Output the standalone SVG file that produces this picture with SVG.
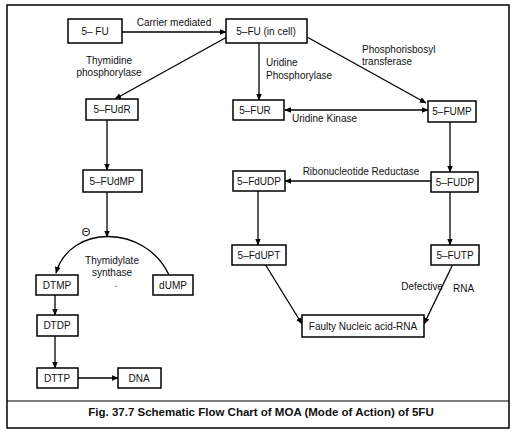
<svg xmlns="http://www.w3.org/2000/svg" width="517" height="432" viewBox="0 0 517 432">
<defs>
<marker id="ah" viewBox="0 0 10 10" refX="9" refY="5" markerWidth="7" markerHeight="7" orient="auto-start-reverse" markerUnits="userSpaceOnUse">
<path d="M0,1 L10,5 L0,9 z" fill="#000"/>
</marker>
<style>
text{font-family:"Liberation Sans",Arial,sans-serif;font-size:10px;fill:#111}
.box{fill:#fff;stroke:#000;stroke-width:1.5}
.c{text-anchor:middle}
.ln{fill:none;stroke:#000;stroke-width:1.3}
.arr{marker-end:url(#ah)}
.cap{font-weight:bold;font-size:11.5px}
</style>
</defs>
<rect x="0" y="0" width="517" height="432" fill="#fff"/>
<rect x="7" y="5" width="502" height="423" fill="none" stroke="#000" stroke-width="1.5"/>
<line x1="7" y1="401" x2="509" y2="401" stroke="#000" stroke-width="1.2"/>
<text class="cap c" x="261" y="416">Fig. 37.7 Schematic Flow Chart of MOA (Mode of Action) of 5FU</text>

<g id="connectors">
<line class="ln arr" x1="122" y1="32" x2="226" y2="32"/>
<line class="ln arr" x1="227" y1="37" x2="115" y2="99"/>
<line class="ln arr" x1="259" y1="43" x2="259" y2="100"/>
<line class="ln arr" x1="307" y1="37" x2="426" y2="103"/>
<line class="ln arr" x1="285" y1="110" x2="428" y2="110" style="marker-start:url(#ah)"/>
<line class="ln arr" x1="107" y1="120" x2="107" y2="170"/>
<line class="ln arr" x1="450" y1="122" x2="450" y2="172"/>
<line class="ln arr" x1="431" y1="181" x2="285" y2="181"/>
<line class="ln arr" x1="258" y1="191" x2="258" y2="245"/>
<line class="ln arr" x1="450" y1="192" x2="450" y2="245"/>
<line class="ln arr" x1="265" y1="264" x2="302" y2="324"/>
<line class="ln arr" x1="453" y1="264" x2="424" y2="324"/>
<line class="ln arr" x1="107" y1="192" x2="107" y2="237"/>
<path class="ln arr" d="M169,275 C145,224 70,224 56,273"/>
<line class="ln arr" x1="55" y1="295" x2="55" y2="315"/>
<line class="ln arr" x1="55" y1="336" x2="55" y2="368"/>
<line class="ln arr" x1="78" y1="378" x2="118" y2="378"/>
</g>

<g id="labels">
<text x="174" y="26" class="c">Carrier mediated</text>
<text x="109" y="64" class="c">Thymidine</text>
<text x="109" y="76" class="c">phosphorylase</text>
<text x="266" y="66">Uridine</text>
<text x="266" y="79">Phosphorylase</text>
<text x="362" y="53">Phosphorisbosyl</text>
<text x="362" y="65">transferase</text>
<text x="292" y="122">Uridine Kinase</text>
<text x="361" y="175" class="c">Ribonucleotide Reductase</text>
<text x="443" y="290" style="text-anchor:end">Defective</text>
<text x="453" y="292">RNA</text>
<text x="86" y="236" class="c" style="font-size:11px">Θ</text>
<text x="112" y="264" class="c">Thymidylate</text>
<text x="112" y="276" class="c">synthase</text>
<text x="116" y="287" class="c">.</text>
</g>

<g id="n-5fu"><rect class="box" x="68" y="19" width="54" height="24"/><text x="95" y="35" class="c">5– FU</text></g>
<g id="n-5fu-cell"><rect class="box" x="226" y="19" width="81" height="24"/><text x="266" y="35" class="c">5–FU (in cell)</text></g>
<g id="n-5fudr"><rect class="box" x="86" y="99" width="52" height="21"/><text x="112" y="113" class="c">5–FUdR</text></g>
<g id="n-5fur"><rect class="box" x="233" y="100" width="51" height="20"/><text x="255" y="114" class="c">5–FUR</text></g>
<g id="n-5fump"><rect class="box" x="428" y="101" width="48" height="21"/><text x="452" y="115" class="c">5–FUMP</text></g>
<g id="n-5fudmp"><rect class="box" x="83" y="170" width="59" height="22"/><text x="112" y="185" class="c">5–FUdMP</text></g>
<g id="n-5fdudp"><rect class="box" x="233" y="171" width="52" height="20"/><text x="259" y="185" class="c">5–FdUDP</text></g>
<g id="n-5fudp"><rect class="box" x="431" y="172" width="47" height="20"/><text x="455" y="186" class="c">5–FUDP</text></g>
<g id="n-5fdupt"><rect class="box" x="232" y="245" width="54" height="20"/><text x="259" y="259" class="c">5–FdUPT</text></g>
<g id="n-5futp"><rect class="box" x="431" y="245" width="48" height="20"/><text x="455" y="259" class="c">5–FUTP</text></g>
<g id="n-faulty"><rect class="box" x="302" y="315" width="122" height="22"/><text x="363" y="330" class="c">Faulty Nucleic acid-RNA</text></g>
<g id="n-dtmp"><rect class="box" x="36" y="275" width="42" height="20"/><text x="57" y="289" class="c">DTMP</text></g>
<g id="n-dump"><rect class="box" x="153" y="275" width="40" height="20"/><text x="173" y="289" class="c">dUMP</text></g>
<g id="n-dtdp"><rect class="box" x="37" y="315" width="41" height="21"/><text x="57" y="329" class="c">DTDP</text></g>
<g id="n-dttp"><rect class="box" x="37" y="368" width="41" height="20"/><text x="57" y="382" class="c">DTTP</text></g>
<g id="n-dna"><rect class="box" x="118" y="368" width="43" height="20"/><text x="139" y="382" class="c">DNA</text></g>
</svg>
